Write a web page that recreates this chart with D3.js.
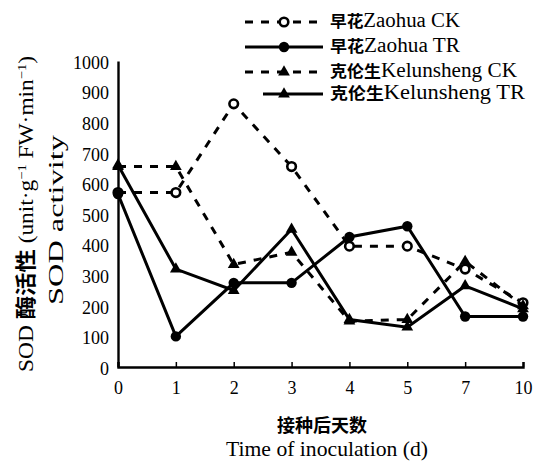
<!DOCTYPE html>
<html><head><meta charset="utf-8">
<script src="https://cdn.jsdelivr.net/npm/d3@7"></script>
<style>body{margin:0;background:#fff}svg{display:block}text{font-family:"Liberation Serif","Times New Roman","Noto Sans CJK SC",serif;fill:#000}</style>
</head><body>
<script>
const days = ["0","1","2","3","4","5","7","10"];
const yTicks = [0,100,200,300,400,500,600,700,800,900,1000];
const zaohuaCK = [570,570,860,655,395,395,320,210];
const zaohuaTR = [565,100,275,275,425,460,165,165];
const kelunCK = [655,655,335,375,150,155,345,200];
const kelunTR = [660,320,250,450,155,130,265,190];
const legendCJK = ["早花","早花","克伦生","克伦生"];
const legendLatin = ["Zaohua CK","Zaohua TR","Kelunsheng CK","Kelunsheng TR"];

const W=537,H=464;
const FONT='"Liberation Serif","Times New Roman","Noto Sans CJK SC",serif';
const svg=d3.select("body").append("svg").attr("width",W).attr("height",H);
const x=d3.scalePoint().domain(days).range([118,523]).padding(0);
const y=d3.scaleLinear().domain([0,1000]).range([367,61]);

// axes
const gy=svg.append("g").attr("transform","translate(118,0)").attr("font-family",FONT)
  .call(d3.axisLeft(y).tickValues(yTicks).tickFormat(d3.format("d")).tickSize(0).tickPadding(9));
gy.select(".domain").attr("stroke","#000").attr("stroke-width",2.4);
gy.selectAll("text").style("font-size","18px").attr("dy","0.4em");
const gx=svg.append("g").attr("transform","translate(0,367)").attr("font-family",FONT)
  .call(d3.axisBottom(x).tickSize(-5).tickPadding(14));
gx.select(".domain").attr("stroke","#000").attr("stroke-width",2.4);
gx.selectAll(".tick line").attr("stroke","#000").attr("stroke-width",1.5);
gx.selectAll("text").style("font-size","18px");

const series=[
 {vals:zaohuaCK,dash:"8,8",marker:"circleOpen"},
 {vals:zaohuaTR,dash:null,marker:"circle"},
 {vals:kelunCK,dash:"8,8",marker:"triangle"},
 {vals:kelunTR,dash:null,marker:"triangle"}
];
const line=d3.line().x((d,i)=>x(days[i])).y(d=>y(d));
function drawMarker(g,type,cx,cy){
  if(type==="triangle"){
    g.append("path").attr("d",d3.symbol(d3.symbolTriangle,60)()).attr("transform",`translate(${cx},${cy})`).attr("fill","#000");
  } else if(type==="circle"){
    g.append("circle").attr("cx",cx).attr("cy",cy).attr("r",5.2).attr("fill","#000");
  } else {
    g.append("circle").attr("cx",cx).attr("cy",cy).attr("r",4.3).attr("fill","#fff").attr("stroke","#000").attr("stroke-width",2.6);
  }
}
series.forEach(s=>{
  const g=svg.append("g");
  g.append("path").datum(s.vals).attr("d",line).attr("fill","none").attr("stroke","#000")
   .attr("stroke-width",3).attr("stroke-dasharray",s.dash);
  s.vals.forEach((v,i)=>drawMarker(g,s.marker,x(days[i]),y(v)));
});

// legend
const lg=svg.append("g");
const rowY=[22,47,72,94];
const lineStart=[245,245,245,263];
const textLen=[130,130,187,195];
series.forEach((s,i)=>{
  const yy=rowY[i];
  lg.append("line").attr("x1",lineStart[i]).attr("x2",323).attr("y1",yy).attr("y2",yy).attr("stroke","#000")
    .attr("stroke-width",3).attr("stroke-dasharray",s.dash);
  drawMarker(lg,s.marker,284,yy);
  const t=lg.append("text").attr("x",330).attr("y",yy+5)
    .attr("textLength",textLen[i]).attr("lengthAdjust","spacingAndGlyphs");
  t.append("tspan").style("font-size","16px").style("font-weight","bold").text(legendCJK[i]);
  t.append("tspan").style("font-size","20px").text(legendLatin[i]);
});

// axis titles
const t1=svg.append("text").attr("transform","translate(33,214) rotate(-90)").attr("text-anchor","middle")
  .attr("textLength",316).attr("lengthAdjust","spacingAndGlyphs").style("font-size","21px");
t1.append("tspan").text("SOD ");
t1.append("tspan").style("font-weight","bold").text("酶活性");
t1.append("tspan").text(" (unit·g");
t1.append("tspan").attr("dy",-7).style("font-size","13px").text("−1");
t1.append("tspan").attr("dy",7).text(" FW·min");
t1.append("tspan").attr("dy",-7).style("font-size","13px").text("−1");
t1.append("tspan").attr("dy",7).text(")");
svg.append("text").attr("transform","translate(63,220) rotate(-90)").attr("text-anchor","middle")
  .attr("textLength",170).attr("lengthAdjust","spacingAndGlyphs").style("font-size","21px").text("SOD activity");
svg.append("text").attr("x",322).attr("y",432).attr("text-anchor","middle").style("font-size","18px").style("font-weight","bold").text("接种后天数");
svg.append("text").attr("x",327).attr("y",456).attr("text-anchor","middle")
  .attr("textLength",202).attr("lengthAdjust","spacingAndGlyphs").style("font-size","21px").text("Time of inoculation (d)");
</script>
</body></html>
